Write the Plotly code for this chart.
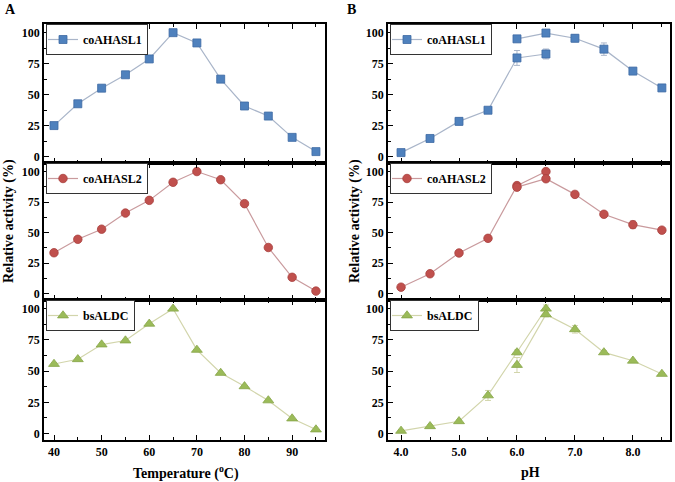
import plotly.graph_objects as go

# ---------------- data ----------------
temp = [40, 45, 50, 55, 60, 65, 70, 75, 80, 85, 90, 95]
t_ahasl1 = [25, 42.6, 55.2, 66, 78.8, 100, 91.7, 62.5, 40.8, 32.7, 15.5, 4]
t_ahasl2 = [33.5, 44.5, 52.8, 66, 76.4, 91.2, 100, 93.3, 73.7, 37.8, 13.4, 2.1]
t_bsaldc = [55.7, 59.5, 71.3, 74.5, 87.9, 100, 67, 48.5, 37.8, 26.5, 12, 3.2]

ph_acid = [4.0, 4.5, 5.0, 5.5, 6.0, 6.5]
ph_base = [6.0, 6.5, 7.0, 7.5, 8.0, 8.5]
p_ahasl1_acid = [3.2, 14.6, 28.4, 37.4, 79.6, 82.8]
p_ahasl1_acid_err = [1, 1, 3, 1, 6, 4]
p_ahasl1_base = [95, 99.7, 95.5, 86.7, 69, 55.4]
p_ahasl1_base_err = [1.5, 2, 3, 5, 1, 1.5]
p_ahasl2_acid = [5.3, 16.3, 33.3, 45.3, 88.5, 100]
p_ahasl2_acid_err = [1, 1, 1, 1, 1.5, 1]
p_ahasl2_base = [87.2, 94.1, 81.3, 65, 56.5, 52]
p_ahasl2_base_err = [1, 1, 1, 1, 3, 1]
p_bsaldc_acid = [2.1, 5.8, 9.8, 30.5, 65, 100]
p_bsaldc_acid_err = [1, 1, 1, 4, 2, 3]
p_bsaldc_base = [54.9, 95.5, 83.5, 65, 58.3, 47.7]
p_bsaldc_base_err = [6, 2, 3, 1.5, 1, 1]

names = ["coAHASL1", "coAHASL2", "bsALDC"]
ph_ticks = [4.0, 5.0, 6.0, 7.0, 8.0]
ph_ticklabels = ["4.0", "5.0", "6.0", "7.0", "8.0"]
y_ticks = [0, 25, 50, 75, 100]

# ---------------- styles ----------------
marker_col = ["#4f81bd", "#c0504d", "#9bbb59"]
marker_line = ["#3d6aa3", "#a8403d", "#86a447"]
line_col = ["#a9b5c9", "#c99a9d", "#d2d5ab"]
symbols = ["square", "circle", "triangle-up"]
msize = [8, 8.5, 9.5]
FONT = "Liberation Serif"

W, H = 675, 482
def px_x(p):
    return p / W
def px_y(p):
    return 1 - p / H

xA = [px_x(44), px_x(325)]
xB = [px_x(388), px_x(670)]
rows_px = [(24, 163), (163, 300), (300, 440)]
ydoms = [[px_y(b), px_y(t)] for (t, b) in rows_px]

fig = go.Figure()

def add(x, y, row, col, idx, err=None, showleg=False, legname="legend"):
    n = row * 2 + col + 1
    xa = "x" if n == 1 else f"x{n}"
    ya = "y" if n == 1 else f"y{n}"
    kw = {}
    if err is not None:
        kw["error_y"] = dict(type="data", array=err, visible=True,
                             color=line_col[idx], thickness=1, width=3)
    fig.add_trace(go.Scatter(
        x=x, y=y, mode="lines+markers", name=names[idx],
        line=dict(color=line_col[idx], width=1.2),
        marker=dict(symbol=symbols[idx], size=msize[idx], color=marker_col[idx],
                    line=dict(color=marker_line[idx], width=0.8)),
        xaxis=xa, yaxis=ya, showlegend=showleg, legend=legname, **kw))

t_series = [t_ahasl1, t_ahasl2, t_bsaldc]
p_acid = [p_ahasl1_acid, p_ahasl2_acid, p_bsaldc_acid]
p_acid_err = [p_ahasl1_acid_err, p_ahasl2_acid_err, p_bsaldc_acid_err]
p_base = [p_ahasl1_base, p_ahasl2_base, p_bsaldc_base]
p_base_err = [p_ahasl1_base_err, p_ahasl2_base_err, p_bsaldc_base_err]

legend_names = {}
for r in range(3):
    nA = r * 2 + 1
    nB = r * 2 + 2
    legA = "legend" if nA == 1 else f"legend{nA}"
    legB = f"legend{nB}"
    legend_names[(r, 0)] = legA
    legend_names[(r, 1)] = legB
    add(temp, t_series[r], r, 0, r, showleg=True, legname=legA)
    add(ph_acid, p_acid[r], r, 1, r, err=p_acid_err[r], showleg=True, legname=legB)
    add(ph_base, p_base[r], r, 1, r, err=p_base_err[r], showleg=False, legname=legB)

tickfont = dict(family=FONT, size=12, color="black", weight="bold")
layout = dict(width=W, height=H, margin=dict(l=0, r=0, t=0, b=0),
              paper_bgcolor="white", plot_bgcolor="white", showlegend=True)

for r in range(3):
    for c in range(2):
        n = r * 2 + c + 1
        xk = "xaxis" if n == 1 else f"xaxis{n}"
        yk = "yaxis" if n == 1 else f"yaxis{n}"
        bottom = (r == 2)
        if c == 0:
            xax = dict(domain=xA, range=[37.9, 96.9], tick0=40, dtick=10,
                       minor=dict(dtick=5, tick0=40, ticks="inside", ticklen=3,
                                  tickcolor="black", tickwidth=1.2))
        else:
            xax = dict(domain=xB, range=[3.775, 8.64], tickvals=ph_ticks,
                       ticktext=ph_ticklabels,
                       minor=dict(dtick=0.5, tick0=4.0, ticks="inside", ticklen=3,
                                  tickcolor="black", tickwidth=1.2))
        xax.update(anchor=("y" if n == 1 else f"y{n}"), showgrid=False,
                   zeroline=False, showline=True, linecolor="black", linewidth=1.6,
                   mirror="ticks", ticks="inside", ticklen=5, tickwidth=1.2,
                   tickcolor="black", showticklabels=bottom, tickfont=tickfont)
        layout[xk] = xax
        layout[yk] = dict(domain=ydoms[r], range=[-5.2, 107],
                          anchor=("x" if n == 1 else f"x{n}"),
                          tickvals=y_ticks, showgrid=False, zeroline=False,
                          showline=True, linecolor="black", linewidth=1.6,
                          mirror=True, ticks="inside", ticklen=5, tickwidth=1.2,
                          tickcolor="black", tickfont=tickfont,
                          minor=dict(tickvals=[12.5, 37.5, 62.5, 87.5],
                                     ticks="inside", ticklen=3,
                                     tickcolor="black", tickwidth=1.2))
        lx = (xA if c == 0 else xB)[0] + 2 / W
        layout[legend_names[(r, c)]] = dict(
            x=lx, y=ydoms[r][1], xanchor="left", yanchor="top",
            bgcolor="white", bordercolor="#333333", borderwidth=1,
            font=dict(family=FONT, size=12, color="black", weight="bold"),
            itemwidth=30, tracegroupgap=0, indentation=-4)

fig.update_layout(**layout)

title_font = dict(family=FONT, size=14, color="black", weight="bold")
ann = [
    dict(text="A", x=px_x(11), y=px_y(9)),
    dict(text="B", x=px_x(352), y=px_y(9)),
    dict(text="Temperature (<sup>o</sup>C)", x=px_x(186), y=px_y(472)),
    dict(text="pH", x=px_x(530), y=px_y(472)),
    dict(text="Relative activity (%)", x=px_x(9), y=px_y(221), textangle=-90),
    dict(text="Relative activity (%)", x=px_x(355), y=px_y(221), textangle=-90),
]
for a in ann:
    a.update(xref="paper", yref="paper", showarrow=False, xanchor="center",
             yanchor="middle", font=title_font)
fig.update_layout(annotations=ann)

fig.write_html("out.html", config={"displayModeBar": False},
               post_script="document.body.style.margin='0';document.body.style.overflow='hidden';")
